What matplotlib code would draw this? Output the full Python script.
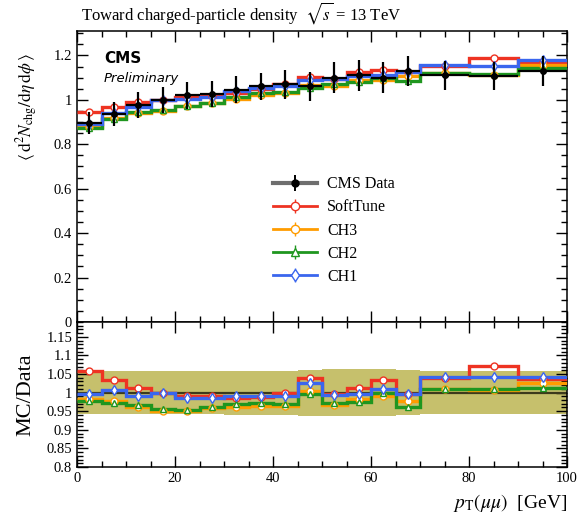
import numpy as np
import matplotlib
matplotlib.use('Agg')
import matplotlib.pyplot as plt
from matplotlib.lines import Line2D
from matplotlib.ticker import MultipleLocator, FuncFormatter

# Bin edges in pT(mumu) [GeV]
edges = [0, 5, 10, 15, 20, 25, 30, 35, 40, 45, 50, 55, 60, 65, 70, 80, 90, 100]

# CMS data: toward charged-particle density
data = [0.895, 0.937, 0.977, 1.000, 1.020, 1.027, 1.046, 1.060, 1.069,
        1.060, 1.100, 1.110, 1.100, 1.130, 1.110, 1.107, 1.130]
# relative data uncertainty (ratio band half-width)
data_rel_err = [0.057, 0.057, 0.058, 0.058, 0.058, 0.058, 0.059, 0.059, 0.059,
                0.062, 0.063, 0.064, 0.064, 0.060, 0.058, 0.058, 0.058]

# MC / Data ratios
ratio_softtune = [1.057, 1.034, 1.013, 1.000, 0.992, 0.992, 0.986, 0.988, 1.000,
                  1.040, 0.995, 1.012, 1.033, 0.995, 1.040, 1.072, 1.036]
ratio_ch3 = [0.982, 0.978, 0.962, 0.951, 0.951, 0.958, 0.960, 0.965, 0.965,
             1.005, 0.967, 0.982, 0.990, 0.978, 1.009, 1.006, 1.025]
ratio_ch2 = [0.978, 0.973, 0.968, 0.955, 0.952, 0.960, 0.970, 0.973, 0.970,
             0.995, 0.973, 0.975, 1.000, 0.960, 1.009, 1.009, 1.012]
ratio_ch1 = [0.995, 1.006, 0.992, 1.000, 0.986, 0.986, 0.992, 0.992, 0.992,
             1.027, 0.994, 0.997, 1.009, 0.997, 1.042, 1.042, 1.042]

tunes = [
    ('SoftTune', ratio_softtune, '#ee3322', 'o'),
    ('CH3', ratio_ch3, '#ff9c00', 'o'),
    ('CH2', ratio_ch2, '#1f961f', '^'),
    ('CH1', ratio_ch1, '#3a66ee', 'd'),
]

plt.rcParams['font.family'] = ['Liberation Serif', 'DejaVu Serif']
plt.rcParams['mathtext.fontset'] = 'stix'


def style_axis(ax):
    ax.tick_params(which='both', direction='in', top=True, right=True,
                   labelsize=10.5)
    ax.tick_params(which='major', length=8, width=1)
    ax.tick_params(which='minor', length=4, width=1)
    for s in ax.spines.values():
        s.set_linewidth(1.1)


def main():
    edges_a = np.array(edges, dtype=float)
    centers = 0.5 * (edges_a[1:] + edges_a[:-1])
    halfw = 0.5 * (edges_a[1:] - edges_a[:-1])
    d = np.array(data)
    rel = np.array(data_rel_err)

    fig = plt.figure(figsize=(5.8, 5.16), dpi=100)
    ax = fig.add_axes([0.1328, 0.376, 0.8448, 0.564])
    rax = fig.add_axes([0.1328, 0.095, 0.8448, 0.281], sharex=ax)

    # --- main panel ---
    handles = []
    labels = []
    for name, r, col, mk in tunes:
        mc = d * np.array(r)
        ax.stairs(mc, edges_a, baseline=None, color=col, lw=2.4, zorder=3)
        ax.errorbar(centers, mc, yerr=0.006, fmt=mk, ms=5, mfc='white',
                    mec=col, mew=1.0, color=col, elinewidth=1.0,
                    capsize=0, zorder=4)
        handles.append((Line2D([], [], color=col, lw=2.0),
                        Line2D([], [], color=col, lw=0, marker='|', ms=10,
                               mew=1.0),
                        Line2D([], [], color=col, lw=0, marker=mk, ms=6,
                               mfc='white', mec=col, mew=1.0)))
        labels.append(name)
    ax.errorbar(centers, d, xerr=halfw, yerr=d * rel, fmt='o', ms=4,
                color='black', elinewidth=1.6, capsize=0, zorder=6)
    hdata = (Line2D([], [], color='#6e6e6e', lw=3.0),
             Line2D([], [], color='black', lw=0, marker='|', ms=11, mew=1.4),
             Line2D([], [], color='black', lw=0, marker='o', ms=5))

    ax.legend([hdata] + handles, ['CMS Data'] + labels,
              loc='upper left', bbox_to_anchor=(0.37, 0.55),
              frameon=False, fontsize=11.5, handlelength=2.8,
              labelspacing=0.45, handletextpad=0.6)

    ax.set_xlim(0, 100)
    ax.set_ylim(0, 1.31)
    ax.yaxis.set_major_locator(MultipleLocator(0.2))
    ax.yaxis.set_minor_locator(MultipleLocator(0.05))
    ax.xaxis.set_major_locator(MultipleLocator(20))
    ax.xaxis.set_minor_locator(MultipleLocator(5))
    ax.yaxis.set_major_formatter(FuncFormatter(lambda v, p: '%g' % round(v, 2)))
    style_axis(ax)
    plt.setp(ax.get_xticklabels(), visible=False)
    ax.set_ylabel(r'$\langle\, \mathrm{d}^2 N_\mathrm{chg} / \mathrm{d}\eta\, \mathrm{d}\phi \,\rangle$',
                  fontsize=12.5)
    ax.yaxis.set_label_coords(-0.075, 0.74)

    ax.text(0.055, 0.905, 'CMS', transform=ax.transAxes, fontsize=11,
            fontweight='bold', family='DejaVu Sans', va='center')
    ax.text(0.055, 0.835, 'Preliminary', transform=ax.transAxes, fontsize=9.5,
            style='italic', family='DejaVu Sans', va='center')
    fig.text(0.14, 0.975, r'Toward charged-particle density  $\sqrt{s}$ = 13 TeV',
             fontsize=12, va='center', ha='left')

    # --- ratio panel ---
    rax.bar(centers, 2 * rel, width=2 * halfw, bottom=1 - rel,
            color='#c6c06c', edgecolor='none', zorder=1)
    rax.stairs(np.ones(len(centers)), edges_a, baseline=None,
               color='#3c3a1c', lw=1.6, zorder=2)
    for name, r, col, mk in tunes:
        rr = np.array(r)
        rax.stairs(rr, edges_a, baseline=None, color=col, lw=2.4, zorder=3)
        rax.errorbar(centers, rr, yerr=0.008, fmt=mk, ms=5, mfc='white',
                     mec=col, mew=1.0, color=col, elinewidth=1.0, capsize=0,
                     zorder=4)

    rax.set_ylim(0.8, 1.19)
    rax.yaxis.set_major_locator(MultipleLocator(0.05))
    rax.yaxis.set_minor_locator(MultipleLocator(0.01))
    rax.yaxis.set_major_formatter(FuncFormatter(lambda v, p: '%g' % round(v, 2)))
    style_axis(rax)
    rax.set_ylabel('MC/Data', fontsize=16)
    rax.yaxis.set_label_coords(-0.085, 0.5)
    rax.set_xlabel(r'$p_\mathrm{T}(\mu\mu)$  [GeV]', fontsize=14, ha='right')
    rax.xaxis.set_label_coords(1.0, -0.17)

    fig.savefig('out.png', dpi=100)


if __name__ == '__main__':
    main()
